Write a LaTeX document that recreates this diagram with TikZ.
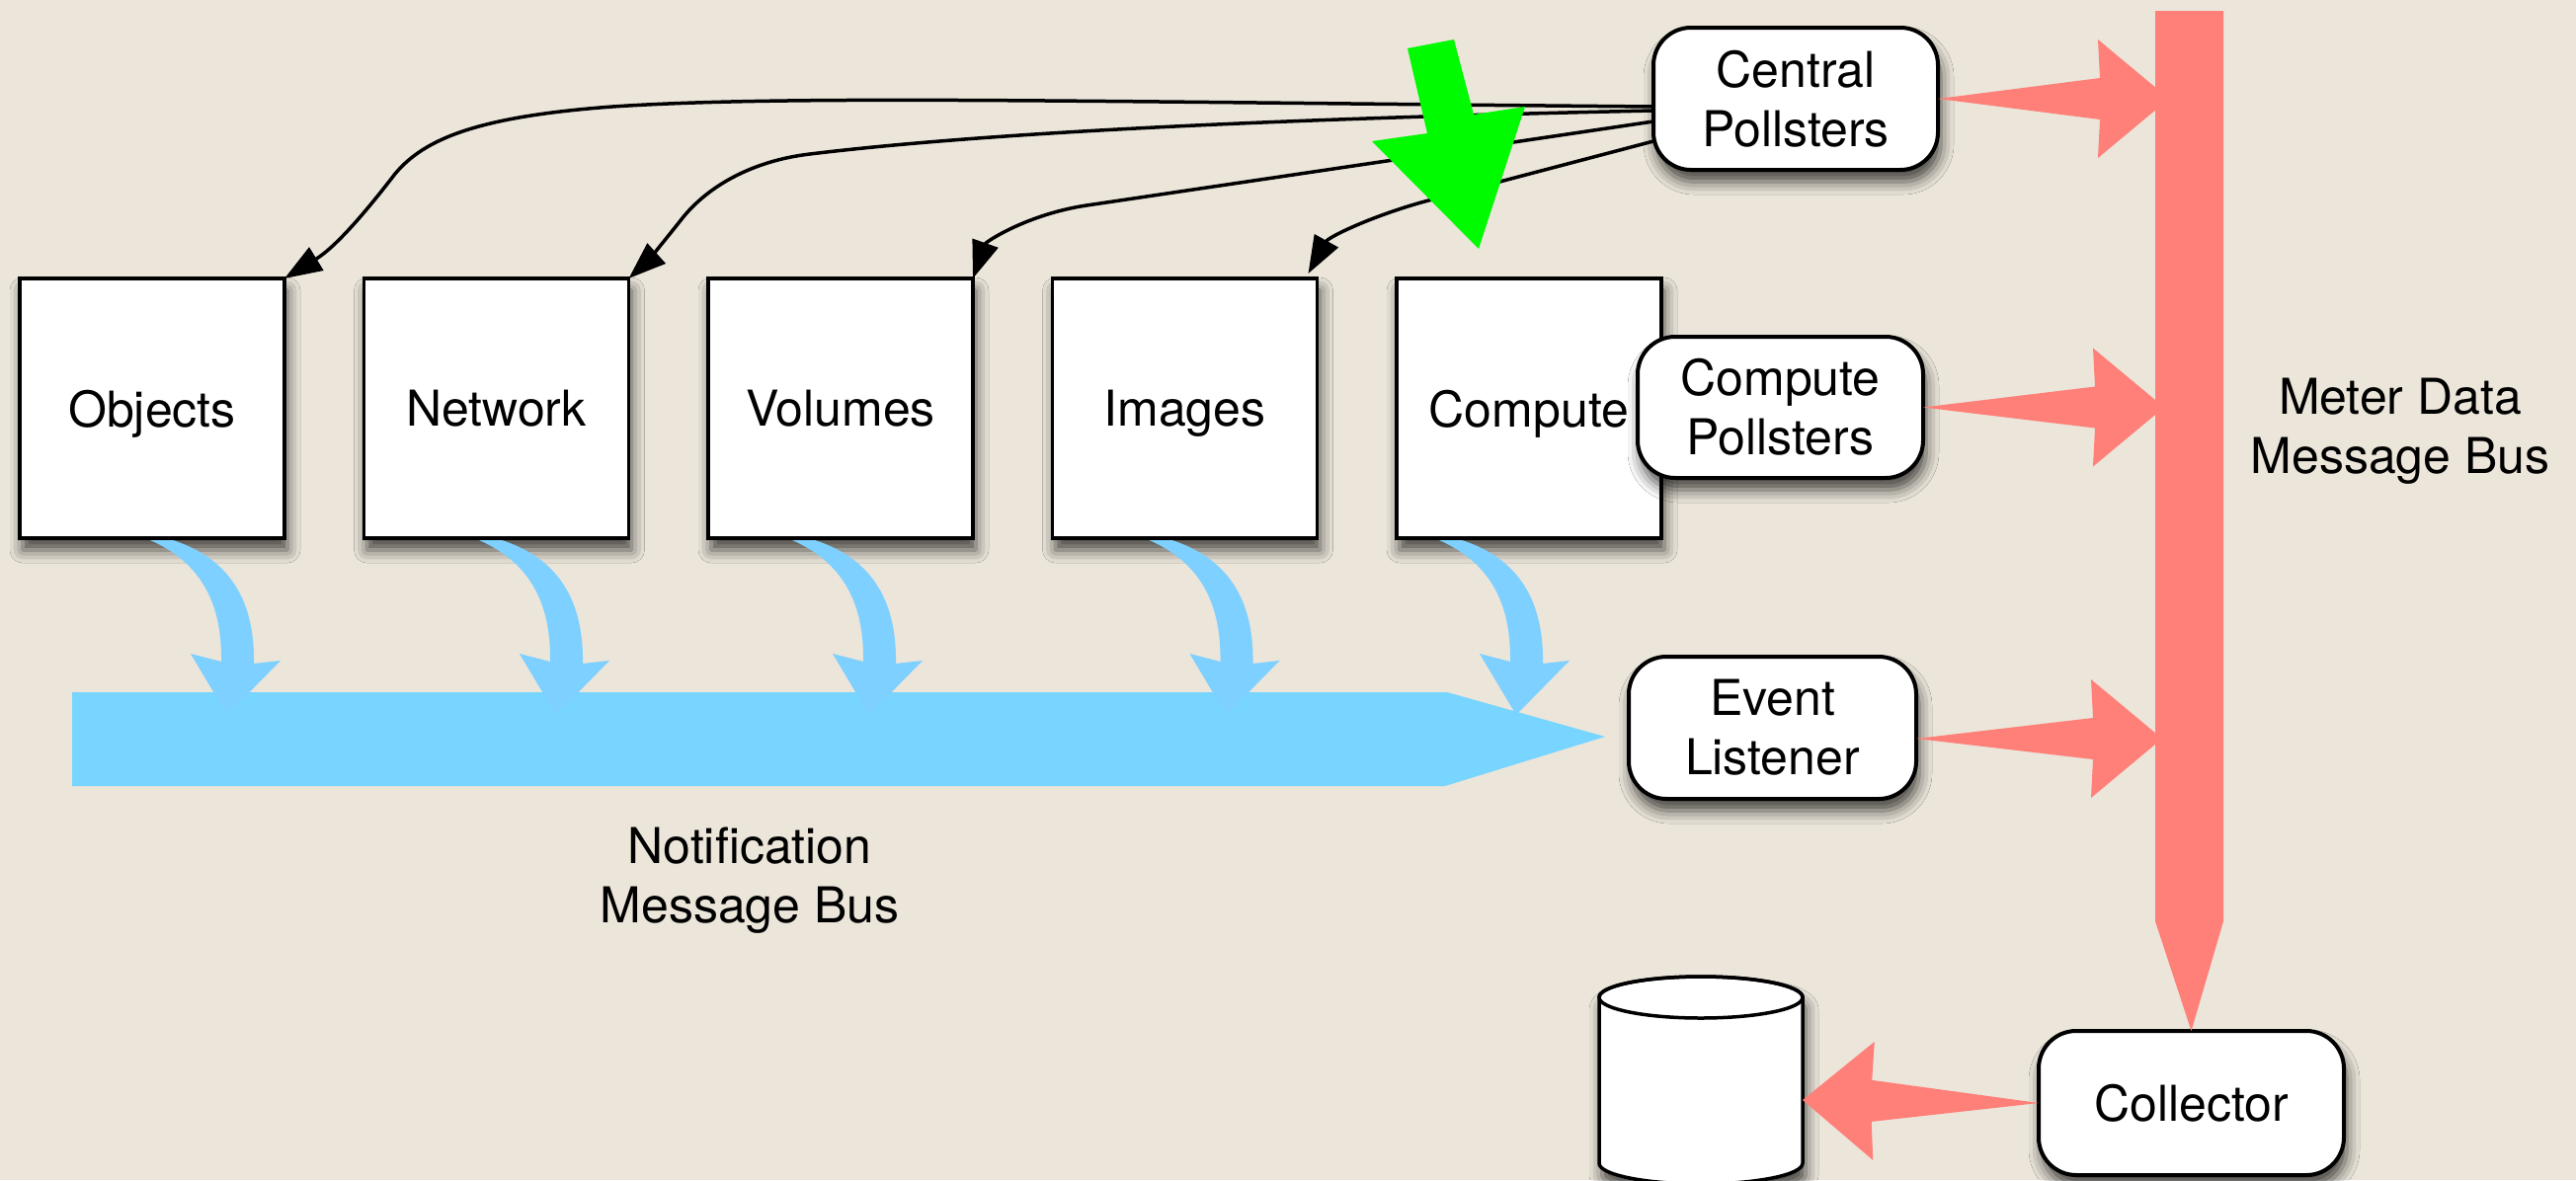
\documentclass[tikz,border=0pt]{standalone}
\usepackage{fontspec}
\setmainfont{TeX Gyre Heros}
\usetikzlibrary{arrows.meta,calc,shadows.blur}
\definecolor{bg}{RGB}{235,229,218}
\definecolor{busblue}{RGB}{120,213,255}
\definecolor{arrblue}{RGB}{125,208,255}
\definecolor{busred}{RGB}{255,128,121}
\definecolor{sketchgreen}{RGB}{0,250,0}
\tikzset{
  shad/.style={blur shadow={shadow xshift=3pt, shadow yshift=-12pt, shadow blur radius=13pt, shadow opacity=70}},
  svcbox/.style={draw, line width=3.5pt, fill=white, inner sep=0pt, outer sep=0pt,
    minimum width=268pt, minimum height=263pt, text depth=0pt, shad,
    font=\fontsize{50}{60}\selectfont},
  pollbox/.style={draw, line width=4pt, fill=white, rounded corners=38pt, inner sep=0pt,
    outer sep=0pt, align=center, shad, font=\fontsize{50}{60}\selectfont},
  conn/.style={draw=black, line width=3.5pt, -{Triangle[length=38pt,width=27pt,fill=black]}},
  lbl/.style={align=center, font=\fontsize{50}{60}\selectfont},
}
\newcommand\fatarrow[2]{%
  \coordinate (fa-n) at ($(#2)!70pt!(#1)$);
  \coordinate (fa-b) at ($(#2)!72pt!(#1)$);
  \fill[busred] (#1) -- ($(fa-n)!21pt!90:(#2)$) -- ($(fa-b)!60pt!90:(#2)$) -- (#2)
    -- ($(fa-b)!60pt!-90:(#2)$) -- ($(fa-n)!21pt!-90:(#2)$) -- cycle;}
\newcommand\notifyarrow[1]{%
  \fill[arrblue, shift={(#1)}] (0,0) .. controls (50,22) and (73,62) .. (72,123)
    -- (41,115) -- (78,177) -- (132,122) -- (105,125)
    .. controls (106,58) and (78,18) .. (23,0) -- cycle;}
\begin{document}
\begin{tikzpicture}[x=1pt,y=-1pt]
\useasboundingbox (0,0) rectangle (2608,1195);
\fill[bg] (0,0) rectangle (2608,1195);

% service boxes
\node[svcbox] (obj) at (154,413.5) {Objects};
\node[svcbox] (net) at (502.5,413.5) {Network};
\node[svcbox] (vol) at (851,413.5) {Volumes};
\node[svcbox] (img) at (1199.5,413.5) {Images};
\node[svcbox] (cmp) at (1548,413.5) {Compute};

% pollster / listener / collector boxes
\node[pollbox, minimum width=288pt, minimum height=144pt] (cp) at (1818,100) {Central\\Pollsters};
\node[pollbox, minimum width=289pt, minimum height=143pt] (cpp) at (1802.5,412.5) {Compute\\Pollsters};
\node[pollbox, minimum width=291pt, minimum height=144pt] (el) at (1794.5,737) {Event\\Listener};
\node[pollbox, minimum width=309pt, minimum height=146pt] (col) at (2218.5,1117) {Collector};

% database cylinder
\node[inner sep=0pt, outer sep=0pt, minimum width=206pt, minimum height=20pt] (db) at (1722,1114) {};
\filldraw[fill=white, line width=3.5pt, shad] (1619,1010) -- (1619,1178)
  arc[start angle=180, end angle=360, x radius=103pt, y radius=21pt]
  -- (1825,1010) arc[start angle=0, end angle=180, x radius=103pt, y radius=21pt] -- cycle;
\draw[line width=3.5pt] (1722,1010) ellipse [x radius=103pt, y radius=21pt];

% notification bus
\coordinate (nbtip) at ($(el.west)+(-24,9)$);
\fill[busblue] (73,701) -- (1465,701) -- (nbtip) -- (1463,796) -- (73,796) -- cycle;
\notifyarrow{$(obj.south)+(-2,2)$}
\notifyarrow{$(net.south)+(-17.5,2)$}
\notifyarrow{$(vol.south)+(-49,2)$}
\notifyarrow{$(img.south)+(-36,2)$}
\notifyarrow{$(cmp.south)+(-91,2)$}

% central pollster connectors
\draw[conn] ($(cp.west)+(0,8)$) .. controls (1100,103) and (800,96) .. (620,108)
  .. controls (485,118) and (430,140) .. (400,176)
  .. controls (370,215) and (340,250) .. (obj.north east);
\draw[conn] ($(cp.west)+(0,12)$) .. controls (1300,120) and (1000,134) .. (820,156)
  .. controls (760,163) and (715,190) .. (690,222)
  .. controls (668,250) and (652,268) .. (net.north east);
\draw[conn] ($(cp.west)+(0,23)$) -- (1100,208)
  .. controls (1040,217) and (998,245) .. (vol.north east);
\draw[conn] ($(cp.west)+(0,43)$) -- (1450,202)
  .. controls (1392,217) and (1345,240) .. ($(img.north east)+(-9,-5)$);

% green marker arrow
\fill[sketchgreen] (1425,49) -- (1472,40) -- (1492,116) -- (1544,108) -- (1497,252)
  -- (1389,143) -- (1445,135) -- cycle;

% meter data arrows
\coordinate (mb1) at (2196,100);
\coordinate (mb2) at (2191,412.5);
\coordinate (mb3) at (2189,748);
\fatarrow{cp.east}{mb1}
\fatarrow{cpp.east}{mb2}
\fatarrow{$(el.east)+(0,11)$}{mb3}
\fatarrow{col.west}{db.east}

% meter data bus
\fill[busred] (2182,11) -- (2251,11) -- (2251,933) -- (col.north) -- (2182,933) -- cycle;

% labels
\node[lbl] (meterlbl) at (2430,437) {Meter Data\\Message Bus};
\node[lbl] (notiflbl) at (759,892) {Notification\\Message Bus};
\end{tikzpicture}
\end{document}
